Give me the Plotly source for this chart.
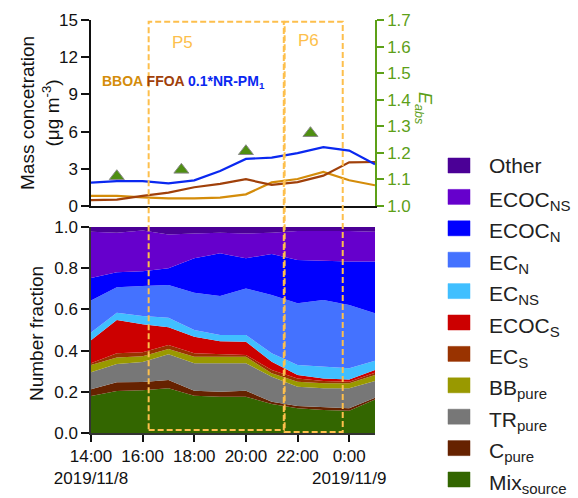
import plotly.graph_objects as go

# ---------------- data ----------------
times = ["2019-11-08 14:00", "2019-11-08 15:00", "2019-11-08 16:00", "2019-11-08 17:00",
         "2019-11-08 18:00", "2019-11-08 19:00", "2019-11-08 20:00", "2019-11-08 21:00",
         "2019-11-08 22:00", "2019-11-08 23:00", "2019-11-09 00:00", "2019-11-09 01:00"]

bboa = [0.81, 0.81, 0.70, 0.62, 0.62, 0.68, 0.94, 1.90, 2.18, 2.75, 2.08, 1.67]
ffoa = [0.48, 0.51, 0.81, 1.08, 1.51, 1.78, 2.16, 1.70, 1.93, 2.45, 3.52, 3.55]
nrpm = [1.88, 2.00, 2.00, 1.83, 2.07, 2.83, 3.80, 3.90, 4.26, 4.74, 4.47, 3.37]

eabs_times = ["2019-11-08 15:00", "2019-11-08 17:30", "2019-11-08 20:00", "2019-11-08 22:30"]
eabs = [1.112, 1.136, 1.206, 1.274]

# number fractions (bottom to top)
mix_source = [0.180, 0.204, 0.207, 0.217, 0.181, 0.176, 0.176, 0.141, 0.120, 0.112, 0.108, 0.163]
c_pure     = [0.032, 0.042, 0.041, 0.040, 0.024, 0.024, 0.029, 0.011, 0.011, 0.013, 0.012, 0.008]
tr_pure    = [0.083, 0.089, 0.097, 0.125, 0.133, 0.138, 0.133, 0.121, 0.094, 0.092, 0.097, 0.081]
bb_pure    = [0.035, 0.031, 0.027, 0.026, 0.032, 0.032, 0.032, 0.017, 0.024, 0.024, 0.024, 0.030]
ec_s       = [0.008, 0.021, 0.020, 0.019, 0.017, 0.012, 0.009, 0.016, 0.016, 0.011, 0.008, 0.011]
ecoc_s     = [0.112, 0.162, 0.136, 0.086, 0.080, 0.063, 0.064, 0.040, 0.017, 0.013, 0.011, 0.013]
ec_ns      = [0.038, 0.035, 0.040, 0.047, 0.033, 0.031, 0.033, 0.041, 0.048, 0.057, 0.054, 0.045]
ec_n       = [0.155, 0.123, 0.146, 0.158, 0.181, 0.189, 0.226, 0.283, 0.300, 0.324, 0.307, 0.230]
ecoc_n     = [0.109, 0.073, 0.071, 0.082, 0.167, 0.207, 0.146, 0.199, 0.210, 0.190, 0.211, 0.251]
ecoc_ns    = [0.225, 0.192, 0.198, 0.164, 0.121, 0.100, 0.121, 0.103, 0.141, 0.145, 0.149, 0.145]
other      = [0.023, 0.028, 0.017, 0.036, 0.031, 0.028, 0.031, 0.028, 0.019, 0.019, 0.019, 0.023]

layers = [mix_source, c_pure, tr_pure, bb_pure, ec_s, ecoc_s, ec_ns, ec_n, ecoc_n, ecoc_ns, other]
layer_base = ["Mix", "C", "TR", "BB", "EC", "ECOC", "EC", "EC", "ECOC", "ECOC", "Other"]
layer_subs = ["source", "pure", "pure", "pure", "S", "S", "NS", "N", "N", "NS", ""]
layer_colors = ["#336600", "#662200", "#777777", "#999900", "#993300", "#CC0000",
                "#40BFFF", "#4472FF", "#0000FF", "#6600CC", "#4B0096"]

tick_vals = ["2019-11-08 14:00", "2019-11-08 16:00", "2019-11-08 18:00", "2019-11-08 20:00",
             "2019-11-08 22:00", "2019-11-09 00:00"]
tick_text = ["14:00<br>2019/11/8", "16:00", "18:00", "20:00", "22:00", "0:00<br>2019/11/9"]

periods = [("P5", "2019-11-08 16:14", "2019-11-08 21:28", 0.0073),
           ("P6", "2019-11-08 21:30", "2019-11-08 23:45", 0.0024)]

# ---------------- figure ----------------
FONT = "Liberation Sans, Arial, sans-serif"
GREEN = "#5DA018"
BOX = "#FDBF4C"
W, H = 578, 498
ML, MR, MT, MB = 91, 203, 20, 65
PW, PH = W - ML - MR, H - MT - MB


def px(xp):
    return (xp - ML) / PW


def py(yp):
    return (H - MB - yp) / PH


def label(base, sub):
    if not sub:
        return base
    return base + "<sub><span style='font-size:15px'>" + sub + "</span></sub>"


layer_names = [label(b, s) for b, s in zip(layer_base, layer_subs)]

fig = go.Figure()

fig.add_trace(go.Scatter(x=times, y=bboa, mode="lines", line=dict(color="#D48C0A", width=2.2),
                         xaxis="x", yaxis="y", showlegend=False))
fig.add_trace(go.Scatter(x=times, y=ffoa, mode="lines", line=dict(color="#A0400A", width=2.2),
                         xaxis="x", yaxis="y", showlegend=False))
fig.add_trace(go.Scatter(x=times, y=nrpm, mode="lines", line=dict(color="#0A28F0", width=2.2),
                         xaxis="x", yaxis="y", showlegend=False))
fig.add_trace(go.Scatter(x=eabs_times, y=eabs, mode="markers",
                         marker=dict(symbol="triangle-up", size=13, color="#4F8F12",
                                     line=dict(color="#8A8A8A", width=1)),
                         xaxis="x", yaxis="y2", showlegend=False))

for vals, name, col in zip(layers, layer_names, layer_colors):
    fig.add_trace(go.Scatter(x=times, y=vals, mode="lines", stackgroup="nf",
                             line=dict(width=0, color=col), fillcolor=col,
                             name=name, xaxis="x2", yaxis="y3", showlegend=False))

xrange = ["2019-11-08 14:00", "2019-11-09 01:00"]
top_dom = [py(206), 1.0]
bot_dom = [0.0, py(227)]

fig.update_layout(
    width=W, height=H,
    margin=dict(l=ML, r=MR, t=MT, b=MB),
    paper_bgcolor="white", plot_bgcolor="white",
    font=dict(family=FONT, size=17, color="#111111"),
    xaxis=dict(domain=[0, 1], anchor="y", range=xrange, showticklabels=False, ticks="",
               showline=True, linecolor="#111111", linewidth=1.5, showgrid=False, zeroline=False,
               automargin=False),
    yaxis=dict(domain=top_dom, anchor="x", range=[0, 15], tickvals=[0, 3, 6, 9, 12, 15],
               ticks="outside", ticklen=8, tickwidth=1.5, tickcolor="#111111",
               showline=True, linecolor="#111111", linewidth=1.5, showgrid=False, zeroline=False,
               tickfont=dict(size=17), automargin=False),
    yaxis2=dict(overlaying="y", side="right", anchor="x", range=[1.0, 1.7],
                tickvals=[1.0, 1.1, 1.2, 1.3, 1.4, 1.5, 1.6, 1.7], tickformat=".1f",
                ticks="outside", ticklen=7, tickwidth=1.5, tickcolor=GREEN,
                showline=True, linecolor=GREEN, linewidth=1.5, showgrid=False, zeroline=False,
                tickfont=dict(size=17, color=GREEN), automargin=False),
    xaxis2=dict(domain=[0, 1], anchor="y3", range=xrange, tickvals=tick_vals, ticktext=tick_text,
                tickangle=0, ticks="outside", ticklen=7, tickwidth=1.5, tickcolor="#111111",
                showline=True, linecolor="#333333", linewidth=1.5, showgrid=False, zeroline=False,
                tickfont=dict(size=17), automargin=False),
    yaxis3=dict(domain=bot_dom, anchor="x2", range=[0, 1.0],
                tickvals=[0, 0.2, 0.4, 0.6, 0.8, 1.0], tickformat=".1f",
                ticks="outside", ticklen=8, tickwidth=1.5, tickcolor="#111111",
                showline=True, linecolor="#333333", linewidth=1.5, showgrid=False, zeroline=False,
                tickfont=dict(size=17), automargin=False),
)

shapes = []
annotations = []

for lab, x0, x1, ybot in periods:
    shapes.append(dict(type="rect", xref="x", yref="paper", x0=x0, x1=x1, y0=ybot, y1=py(21.7),
                       line=dict(color=BOX, width=2, dash="6px,3px"), fillcolor="rgba(0,0,0,0)",
                       layer="above"))

annotations.append(dict(xref="paper", yref="paper", x=px(182.5), y=py(42), text="P5",
                        showarrow=False, xanchor="center", yanchor="middle",
                        font=dict(size=17, color=BOX)))
annotations.append(dict(xref="paper", yref="paper", x=px(308), y=py(41), text="P6",
                        showarrow=False, xanchor="center", yanchor="middle",
                        font=dict(size=17, color=BOX)))

annotations.append(dict(
    xref="paper", yref="paper", x=px(100), y=py(82), xanchor="left", yanchor="middle",
    showarrow=False, font=dict(size=14),
    text=("<b><span style='color:#D48C0A'>BBOA</span> <span style='color:#A0400A'>FFOA</span> "
          "<span style='color:#0A28F0'>0.1*NR-PM<sub>1</sub></span></b>")))

annotations.append(dict(xref="paper", yref="paper", x=px(40), y=py(113),
                        text="Mass concetration<br>(μg m<sup>-3</sup>)", textangle=-90,
                        showarrow=False, xanchor="center", yanchor="middle",
                        font=dict(size=19)))
annotations.append(dict(xref="paper", yref="paper", x=px(36), y=py(334),
                        text="Number fraction", textangle=-90,
                        showarrow=False, xanchor="center", yanchor="middle",
                        font=dict(size=19)))
annotations.append(dict(xref="paper", yref="paper", x=px(424), y=py(108),
                        text="<i>E<sub>abs</sub></i>", textangle=90,
                        showarrow=False, xanchor="center", yanchor="middle",
                        font=dict(size=18, color=GREEN)))

# manual legend (top item = top of the stack)
leg_y0 = 165.5
leg_dy = 31.4
for i, (name, sub, col) in enumerate(zip(layer_names[::-1], layer_subs[::-1], layer_colors[::-1])):
    yc = leg_y0 + i * leg_dy
    shapes.append(dict(type="rect", xref="paper", yref="paper",
                       x0=px(448), x1=px(470), y0=py(yc + 7.5), y1=py(yc - 7.5),
                       fillcolor=col, line=dict(color=col, width=0.5)))
    annotations.append(dict(xref="paper", yref="paper", x=px(487), y=py(yc),
                            text=name, showarrow=False, xanchor="left", yanchor="middle",
                            yshift=(-4 if sub else 0),
                            font=dict(size=21, color="#222222")))

fig.update_layout(shapes=shapes, annotations=annotations)

fig.write_html("out.html")
